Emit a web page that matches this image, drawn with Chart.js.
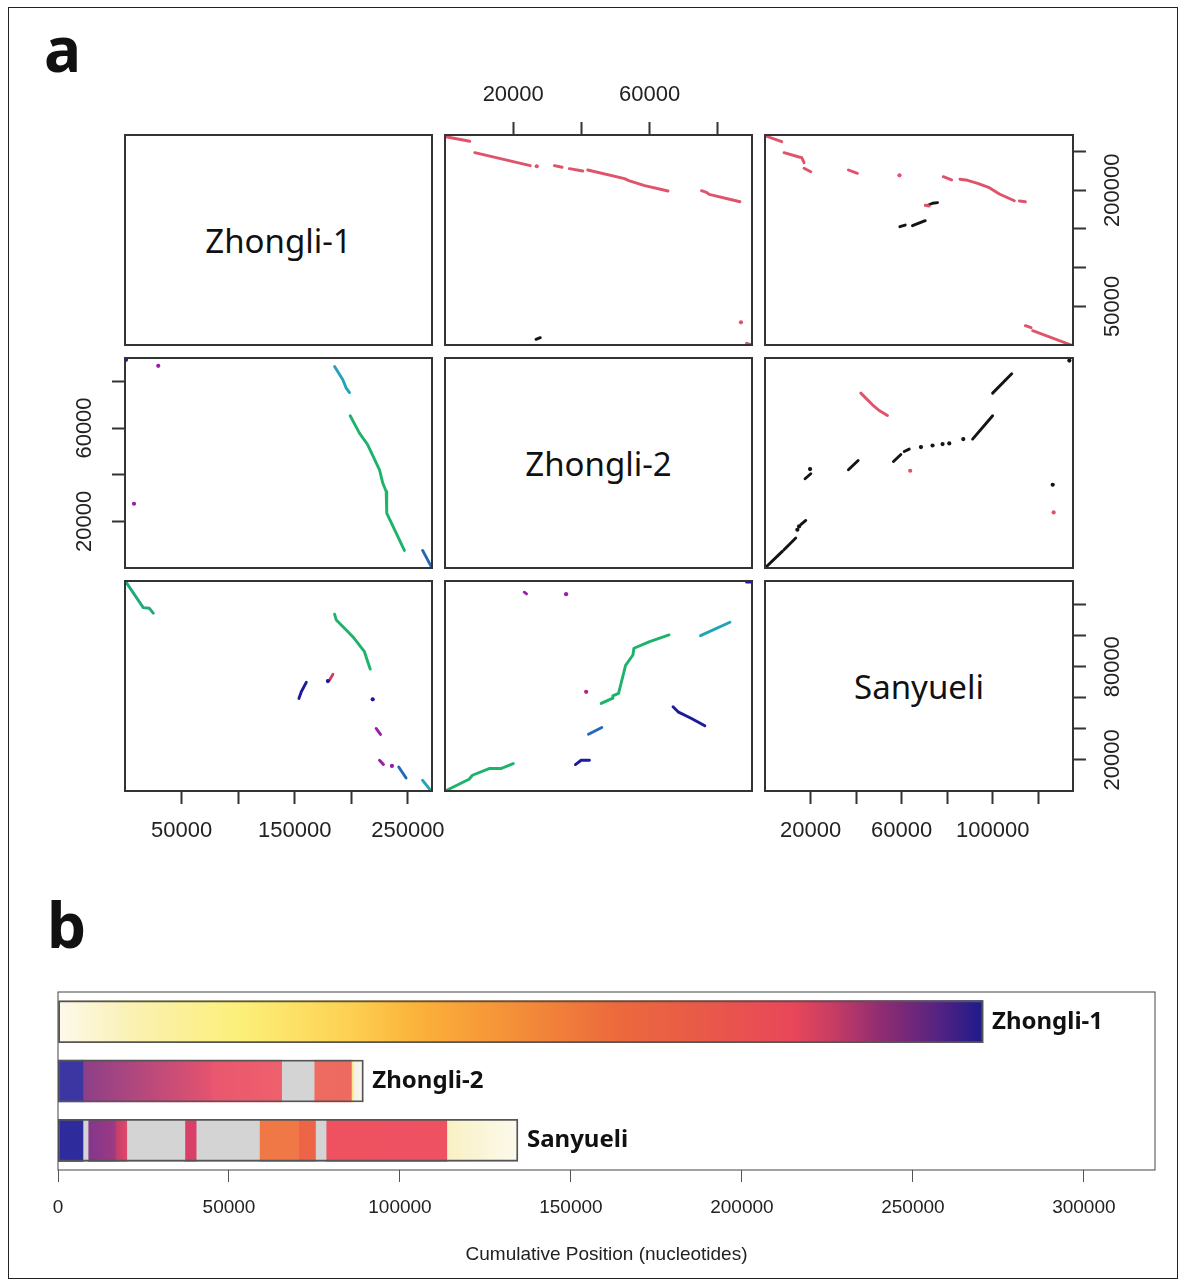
<!DOCTYPE html>
<html>
<head>
<meta charset="utf-8">
<script src="https://cdn.jsdelivr.net/npm/chart.js@4.4.0/dist/chart.umd.min.js"></script>
<style>
    body { margin: 0; background: #fff; width: 1179px; height: 1279px; position: relative; overflow: hidden; font-family: "Noto Sans", sans-serif; }
    .frame { position: absolute; left: 8px; top: 7px; width: 1170px; height: 1272px; border: 1.5px solid #222; box-sizing: border-box; }
    .tag { position: absolute; font-weight: bold; font-size: 62px; line-height: 62px; color: #111; }
    .diag { position: absolute; box-sizing: border-box; border: 2px solid #333; display: flex; align-items: center; justify-content: center; font-size: 33px; color: #111; }
    canvas { position: absolute; }
</style>
</head>
<body>
<div class="frame"></div>
<div class="tag" style="left:44px;top:17px">a</div>
<div class="tag" style="left:47px;top:893px">b</div>

<script>
// 基因组名称与长度 (nt)
const genomes = ['Zhongli-1', 'Zhongli-2', 'Sanyueli'];
const genomeLength = [271300, 90000, 135200];

// 每个基因组坐标轴的刻度
const axisTicks = [
    [50000, 100000, 150000, 200000, 250000],
    [20000, 40000, 60000, 80000],
    [20000, 40000, 60000, 80000, 100000, 120000]
];
// 各位置实际显示的刻度标签
const topLabelsZh2 = [20000, 60000];
const leftLabelsZh2 = [20000, 60000];
const rightLabelsZh1 = [50000, 200000];
const rightLabelsSan = [20000, 80000];
const bottomLabelsZh1 = [50000, 150000, 250000];
const bottomLabelsSan = [20000, 60000, 100000];

// 点图片段: [颜色, [[x, y], ...]]
// x: Zhongli-2, y: Zhongli-1
const zh2VsZh1 = [
    ['rev', [[200, 269100], [7260, 263200]]],
    ['rev', [[8730, 248500], [25000, 231700]]],
    ['rev', [[26900, 230900]]],
    ['rev', [[32060, 231700], [34320, 229600]]],
    ['rev', [[36470, 227800], [40380, 224800]]],
    ['rev', [[41850, 226100], [52640, 214900], [54110, 211900], [58530, 205800], [65380, 199000]]],
    ['rev', [[75200, 199400], [76670, 197300], [77440, 194700], [86470, 185100]]],
    ['rev', [[86760, 29300]]],
    ['rev', [[88430, 2200], [89900, 0]]],
    ['fwd', [[26670, 7360], [27940, 9430]]]
];
// x: Sanyueli, y: Zhongli-1
const sanVsZh1 = [
    ['rev', [[300, 270000], [7340, 262700]]],
    ['rev', [[8350, 248500], [14950, 242900], [16130, 242000], [17140, 235500]]],
    ['rev', [[17140, 228300], [20090, 223900]]],
    ['rev', [[36620, 226100], [40570, 221800]]],
    ['rev', [[59040, 219200]]],
    ['rev', [[78250, 217400], [81900, 213200]]],
    ['rev', [[85590, 214100], [88930, 212800], [93330, 208900], [98470, 203200], [102870, 195100], [109460, 186400]]],
    ['rev', [[111660, 186000], [114300, 185100]]],
    ['rev', [[70340, 180500], [72090, 179600]]],
    ['fwd', [[71520, 180500], [73540, 183100], [75740, 183900]]],
    ['fwd', [[59210, 152800], [61540, 155000]]],
    ['fwd', [[64750, 154100], [70340, 160600]]],
    ['rev', [[114300, 24900], [116800, 22400]]],
    ['rev', [[117500, 18500], [134400, 0]]]
];
// x: Zhongli-1, y: Zhongli-2
const zh1VsZh2 = [
    ['navy', [[880, 89200]]],
    ['purple', [[29370, 86650]]],
    ['purple', [[7940, 27540]]],
    ['teal', [[185200, 86350], [192500, 80650], [195500, 77090], [198400, 75210]]],
    ['green', [[199000, 65230], [207200, 57820], [214500, 52810], [224900, 42100], [227800, 36410], [230800, 32810], [231300, 23560], [246900, 7540]]],
    ['blue', [[263000, 7540], [270500, 690]]]
];
// x: Sanyueli, y: Zhongli-2
const sanVsZh2 = [
    ['fwd', [[0, 0], [7600, 7110]]],
    ['fwd', [[8350, 7840], [13500, 12850]]],
    ['fwd', [[14200, 16400]]],
    ['fwd', [[14950, 17820]]],
    ['fwd', [[15700, 18550], [17900, 20390]]],
    ['fwd', [[17580, 38250], [20090, 40390]]],
    ['fwd', [[19780, 42400]]],
    ['fwd', [[36620, 42100], [40880, 46090]]],
    ['fwd', [[56400, 45660], [59650, 48650]]],
    ['fwd', [[61100, 49940], [63300, 50970]]],
    ['fwd', [[68450, 51820]]],
    ['fwd', [[73540, 52510]]],
    ['fwd', [[77940, 53110]]],
    ['fwd', [[80890, 53370]]],
    ['fwd', [[87040, 55250]]],
    ['fwd', [[91130, 55250], [99920, 65230]]],
    ['fwd', [[99920, 74950], [108300, 83220]]],
    ['fwd', [[133600, 88900]]],
    ['fwd', [[126300, 35680]]],
    ['rev', [[42070, 74950], [47170, 69940], [50110, 67500], [53760, 65360]]],
    ['rev', [[63740, 41670]]],
    ['rev', [[126700, 23810]]]
];
// x: Zhongli-1, y: Sanyueli
const zh1VsSan = [
    ['seagreen', [[880, 134460], [16140, 118070], [21430, 117680], [24950, 114460]]],
    ['green', [[185200, 113810], [186700, 110140], [195500, 103690], [201300, 99360], [211600, 89680], [214500, 83230], [216700, 78520]]],
    ['navy', [[153700, 59620], [155800, 63880], [160200, 69940]]],
    ['navy', [[179300, 70780]]],
    ['crimson', [[180800, 71420], [183700, 75100]]],
    ['navy', [[218900, 59040]]],
    ['purple', [[221900, 40260], [225800, 36390]]],
    ['purple', [[224900, 19810], [228400, 17030]]],
    ['purple', [[235900, 16130]]],
    ['blue', [[241900, 15480], [248400, 8390]]],
    ['teal', [[263000, 6900], [270500, 0]]]
];
// x: Zhongli-2, y: Sanyueli
const zh2VsSan = [
    ['green', [[0, 0], [7060, 7550], [8030, 10130], [12940, 14450], [16380, 14450], [20000, 17680]]],
    ['navy', [[38230, 17030], [39910, 19810], [42350, 19810]]],
    ['blue', [[42060, 36580], [45970, 40910]]],
    ['green', [[45790, 56390], [49030, 59620], [49200, 61290], [50880, 62840], [52940, 80910], [55090, 87560], [55380, 91880], [60000, 96140], [65680, 100460]]],
    ['teal', [[74910, 100010], [83530, 108650]]],
    ['navy', [[66850, 54200], [68320, 50970], [72260, 46710], [76170, 41940]]],
    ['magenta', [[41380, 63880]]],
    ['purple', [[23230, 128000], [23910, 126900]]],
    ['purple', [[35500, 126700]]],
    ['navy', [[88430, 134460], [89610, 134460]]]
];

// b: 累积位置条形图
const barTotals = [270500, 89300, 134500];
const zh1Palette = [
    [0, '#fdf9ec'], [21000, '#faf1b4'], [54000, '#fcef78'], [85000, '#fdd152'],
    [105000, '#fbb23a'], [134000, '#f48e38'], [163000, '#ec6a3c'], [188000, '#e85a48'],
    [215000, '#e8475a'], [227000, '#c53c64'], [241000, '#8e2c72'], [256000, '#5a2480'],
    [270500, '#1e1a8a']
];
// [起点, 终点, 起始色, 结束色]
const zh2Segments = [
    [0, 7300, '#3b36a2', '#3b36a2'],
    [7300, 44700, '#8c3f88', '#e4536f'],
    [44700, 65400, '#e9566f', '#ef606c'],
    [65400, 74900, '#d4d4d4', '#d4d4d4'],
    [74900, 85800, '#ee6b62', '#ec6a60'],
    [85800, 86400, '#fbe98a', '#fbe98a'],
    [86400, 89300, '#f3f1e6', '#f8f6ee']
];
const sanSegments = [
    [0, 7300, '#2e2b9c', '#2e2b9c'],
    [7300, 8800, '#d4d4d4', '#d4d4d4'],
    [8800, 16700, '#83368c', '#9c3a82'],
    [16700, 20100, '#c03c6a', '#e0486a'],
    [20100, 37100, '#d4d4d4', '#d4d4d4'],
    [37100, 40400, '#d8406a', '#d8406a'],
    [40400, 58900, '#d4d4d4', '#d4d4d4'],
    [58900, 70300, '#ef7846', '#ef7846'],
    [70300, 75300, '#ee6447', '#ee6447'],
    [75300, 78400, '#d4d4d4', '#d4d4d4'],
    [78400, 113700, '#ef5160', '#ee5262'],
    [113700, 134500, '#f9f1c4', '#fcf9ec']
];
const barTicks = [0, 50000, 100000, 150000, 200000, 250000, 300000];

const lineColors = {
    fwd: '#141414', rev: '#df536b', navy: '#1c1a9e', purple: '#9a1fa6',
    magenta: '#b8207e', crimson: '#d33a6a', teal: '#23a4b6', green: '#1db36b',
    seagreen: '#1fa97c', blue: '#2467b6'
};

// 版面
const colLeft = [125, 445, 765];
const colWidth = [307, 307, 308];
const rowTop = [135, 358, 581];
const rowHeight = 210;
const M = 70;

const measureCtx = document.createElement('canvas').getContext('2d');
function textWidth(str, font) {
    measureCtx.font = font;
    return measureCtx.measureText(str).width;
}

// 绘制面板边框
const boxPlugin = {
    id: 'box',
    afterDraw(chart, args, opts) {
        const { ctx, chartArea: a } = chart;
        ctx.save();
        ctx.strokeStyle = opts.color;
        ctx.lineWidth = opts.width;
        ctx.strokeRect(a.left, a.top, a.right - a.left, a.bottom - a.top);
        ctx.restore();
    }
};

function axisScale(len, side, ticks, labels) {
    const s = { type: 'linear', min: 0, max: len, display: !!side };
    if (!side) return s;
    const vertical = side === 'left' || side === 'right';
    const font = { family: 'Liberation Sans', size: 22 };
    let pad = 14;
    if (vertical) {
        const widest = Math.max(...labels.map(v => textWidth(String(v), '22px "Liberation Sans"')));
        pad = 40 - 13 - widest / 2;
    }
    Object.assign(s, {
        position: side,
        afterBuildTicks: sc => { sc.ticks = ticks.map(v => ({ value: v })); },
        afterFit: sc => { if (vertical) sc.width = M; else sc.height = M; },
        border: { display: false },
        grid: { drawOnChartArea: false, drawTicks: true, tickLength: 13, tickWidth: 2, tickColor: '#333' },
        ticks: {
            autoSkip: false,
            color: '#222',
            font: font,
            padding: pad,
            minRotation: vertical ? 90 : 0,
            maxRotation: vertical ? 90 : 0,
            crossAlign: vertical ? 'center' : 'near',
            callback: v => labels.includes(v) ? String(v) : ''
        }
    });
    return s;
}

function addCanvas(left, top, w, h) {
    const c = document.createElement('canvas');
    c.width = w; c.height = h;
    c.style.left = left + 'px'; c.style.top = top + 'px';
    c.style.width = w + 'px'; c.style.height = h + 'px';
    document.body.appendChild(c);
    return c;
}

function makePanel(row, col, segs, xSide, xLabels, ySide, yLabels) {
    const w = colWidth[col] + 2 * M, h = rowHeight + 2 * M;
    const canvas = addCanvas(colLeft[col] - M, rowTop[row] - M, w, h);
    const padding = {
        left: ySide === 'left' ? 0 : M,
        right: ySide === 'right' ? 0 : M,
        top: xSide === 'top' ? 0 : M,
        bottom: xSide === 'bottom' ? 0 : M
    };
    new Chart(canvas.getContext('2d'), {
        type: 'scatter',
        data: {
            datasets: segs.map(([c, pts]) => ({
                data: pts.map(([x, y]) => ({ x, y })),
                showLine: true,
                borderColor: lineColors[c],
                backgroundColor: lineColors[c],
                borderWidth: 2.9,
                borderCapStyle: 'round',
                borderJoinStyle: 'round',
                pointRadius: pts.length === 1 ? 2.1 : 0,
                pointBorderWidth: 0
            }))
        },
        options: {
            responsive: false,
            animation: false,
            layout: { padding },
            scales: {
                x: axisScale(genomeLength[col], xSide, axisTicks[col], xLabels),
                y: axisScale(genomeLength[row], ySide, axisTicks[row], yLabels)
            },
            plugins: { legend: { display: false }, tooltip: { enabled: false }, box: { color: '#333', width: 2 } }
        },
        plugins: [boxPlugin]
    });
}

// 对角线名称面板
genomes.forEach((g, i) => {
    const d = document.createElement('div');
    d.className = 'diag';
    d.style.left = (colLeft[i] - 1) + 'px';
    d.style.top = (rowTop[i] - 1) + 'px';
    d.style.width = (colWidth[i] + 2) + 'px';
    d.style.height = (rowHeight + 2) + 'px';
    d.textContent = g;
    document.body.appendChild(d);
});

makePanel(0, 1, zh2VsZh1, 'top', topLabelsZh2, null, null);
makePanel(0, 2, sanVsZh1, null, null, 'right', rightLabelsZh1);
makePanel(1, 0, zh1VsZh2, null, null, 'left', leftLabelsZh2);
makePanel(1, 2, sanVsZh2, null, null, null, null);
makePanel(2, 0, zh1VsSan, 'bottom', bottomLabelsZh1, null, null);
makePanel(2, 1, zh2VsSan, null, null, null, null);
// Sanyueli 面板的外侧坐标轴
makePanel(2, 2, [], 'bottom', bottomLabelsSan, 'right', rightLabelsSan);

// ---- b ----
function gradientFill(stops) {
    return ctx => {
        const chart = ctx.chart;
        const xs = chart.scales.x;
        if (!chart.chartArea || !xs) return stops[0][1];
        const v0 = stops[0][0], v1 = stops[stops.length - 1][0];
        const g = chart.ctx.createLinearGradient(xs.getPixelForValue(v0), 0, xs.getPixelForValue(v1), 0);
        stops.forEach(([v, c]) => g.addColorStop((v - v0) / (v1 - v0), c));
        return g;
    };
}

function segmentDataset(k, stops) {
    return {
        data: genomes.map((g, i) => i === k ? [stops[0][0], stops[stops.length - 1][0]] : null),
        backgroundColor: gradientFill(stops),
        borderWidth: 0,
        order: 1
    };
}

const barDatasets = [segmentDataset(0, zh1Palette)];
zh2Segments.forEach(([s, e, c0, c1]) => barDatasets.push(segmentDataset(1, [[s, c0], [e, c1]])));
sanSegments.forEach(([s, e, c0, c1]) => barDatasets.push(segmentDataset(2, [[s, c0], [e, c1]])));
barDatasets.push({
    data: barTotals,
    backgroundColor: 'rgba(0,0,0,0)',
    borderColor: '#555',
    borderWidth: 1.2,
    borderSkipped: false,
    order: 0
});

// 条形末端的名称
const barNamePlugin = {
    id: 'barNames',
    afterDatasetsDraw(chart) {
        const meta = chart.getDatasetMeta(chart.data.datasets.length - 1);
        const ctx = chart.ctx;
        ctx.save();
        ctx.font = 'bold 24px "Noto Sans"';
        ctx.fillStyle = '#111';
        ctx.textBaseline = 'middle';
        meta.data.forEach((el, i) => ctx.fillText(genomes[i], el.x + 9, el.y));
        ctx.restore();
    }
};

const barCanvas = addCanvas(20, 960, 1159, 319);
new Chart(barCanvas.getContext('2d'), {
    type: 'bar',
    data: { labels: genomes, datasets: barDatasets },
    options: {
        responsive: false,
        animation: false,
        indexAxis: 'y',
        datasets: { bar: { grouped: false, barThickness: 42 } },
        layout: { padding: { left: 38, top: 32, right: 24, bottom: 9 } },
        scales: {
            y: { type: 'category', display: false, offset: true },
            x: {
                type: 'linear', min: 0, max: 320800,
                afterBuildTicks: sc => { sc.ticks = barTicks.map(v => ({ value: v })); },
                afterFit: sc => { sc.height = 100; },
                border: { display: false },
                grid: { drawOnChartArea: false, drawTicks: true, tickLength: 12, tickWidth: 1, tickColor: '#555' },
                ticks: { autoSkip: false, color: '#222', padding: 14, maxRotation: 0, font: { family: 'Liberation Sans', size: 19 }, callback: v => String(v) },
                title: { display: true, text: 'Cumulative Position (nucleotides)', color: '#222', padding: { top: 0, bottom: 4 }, font: { family: 'Liberation Sans', size: 19 } }
            }
        },
        plugins: { legend: { display: false }, tooltip: { enabled: false }, box: { color: '#444', width: 1 } }
    },
    plugins: [boxPlugin, barNamePlugin]
});
</script>
</body>
</html>
